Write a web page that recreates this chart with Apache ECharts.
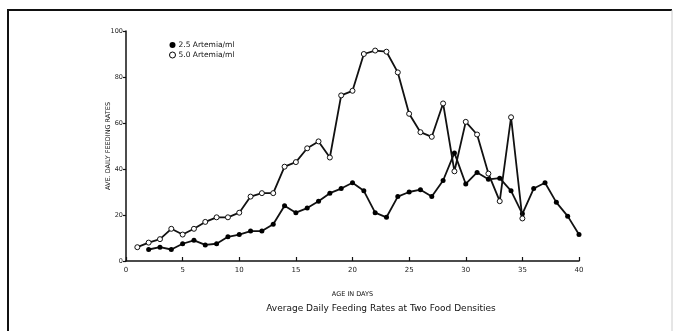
<!DOCTYPE html>
<html>
<head>
<meta charset="utf-8">
<script src="https://cdn.jsdelivr.net/npm/echarts@6/dist/echarts.min.js"></script>
<style>
html,body{margin:0;padding:0;background:#fff;}
#chart{width:674px;height:331px;}
</style>
</head>
<body>
<div id="chart"></div>
<script>
var xTicks = [0, 5, 10, 15, 20, 25, 30, 35, 40];
var yTicks = [0, 20, 40, 60, 80, 100];

var lowDays = [2,3,4,5,6,7,8,9,10,11,12,13,14,15,16,17,18,19,20,21,22,23,24,25,26,27,28,29,30,31,32,33,34,35,36,37,38,39,40];
var lowValues = [5,6,5,7.5,9,7,7.5,10.5,11.5,13,13,16,24,21,23,26,29.5,31.5,34,30.5,21,19,28,30,31,28,35,47,33.5,38.5,35.5,36,30.5,20.5,31.5,34,25.5,19.5,11.5];

var highDays = [1,2,3,4,5,6,7,8,9,10,11,12,13,14,15,16,17,18,19,20,21,22,23,24,25,26,27,28,29,30,31,32,33,34,35];
var highValues = [6,8,9.5,14,11.5,14,17,19,19,21,28,29.5,29.5,41,43,49,52,45,72,74,90,91.5,91,82,64,56,54,68.5,39,60.5,55,38,26,62.5,18.5];

var lowName = '2.5 Artemia/ml';
var highName = '5.0 Artemia/ml';
var titleText = 'Average Daily Feeding Rates at Two Food Densities';
var xName = 'AGE IN DAYS';
var yName = 'AVE. DAILY FEEDING RATES';

function pairs(xs, ys) { return xs.map(function (x, i) { return [x, ys[i]]; }); }

var font = 'DejaVu Sans';
var chart = echarts.init(document.getElementById('chart'));
chart.setOption({
  animation: false,
  backgroundColor: '#fff',
  title: {
    text: titleText,
    left: 376, top: 299, textAlign: 'center',
    textStyle: { fontFamily: font, fontSize: 9, fontWeight: 'normal', color: '#111' }
  },
  legend: {
    orient: 'vertical', left: 164, top: 36, itemGap: 2,
    itemWidth: 6, itemHeight: 6,
    textStyle: { fontFamily: font, fontSize: 7.5, color: '#111', padding: [0,0,0,-2] },
    data: [
      { name: lowName, icon: 'circle', itemStyle: { color: '#000', borderWidth: 0 } },
      { name: highName, icon: 'circle', itemStyle: { color: '#fff', borderColor: '#000', borderWidth: 1 } }
    ]
  },
  grid: { left: 126, right: 95, top: 31, bottom: 70 },
  xAxis: {
    type: 'value', min: xTicks[0], max: xTicks[xTicks.length - 1], interval: 5,
    name: xName, nameLocation: 'middle', nameGap: 30,
    nameTextStyle: { fontFamily: font, fontSize: 6.5, color: '#111' },
    axisLine: { lineStyle: { color: '#111', width: 1.5 } },
    axisTick: { inside: true, length: 4, lineStyle: { color: '#111', width: 1.2 } },
    axisLabel: { fontFamily: font, fontSize: 7, color: '#222', margin: 6 },
    splitLine: { show: false }
  },
  yAxis: {
    type: 'value', min: yTicks[0], max: yTicks[yTicks.length - 1], interval: 20,
    name: yName, nameLocation: 'middle', nameGap: 14, nameMoveOverlap: false,
    nameTextStyle: { fontFamily: font, fontSize: 6.5, color: '#111' },
    axisLine: { show: true, lineStyle: { color: '#111', width: 1.5 } },
    axisTick: { show: true, inside: false, length: 3, lineStyle: { color: '#111', width: 1.2 } },
    axisLabel: { fontFamily: font, fontSize: 6.5, color: '#222', margin: 3 },
    splitLine: { show: false }
  },
  graphic: [
    { type: 'polyline', shape: { points: [[8, 331], [8, 10], [672, 10]] }, style: { stroke: '#111', lineWidth: 2, fill: null } },
    { type: 'line', shape: { x1: 672, y1: 10, x2: 672, y2: 331 }, style: { stroke: '#ccc', lineWidth: 1 } }
  ],
  series: [
    {
      name: lowName, type: 'line', data: pairs(lowDays, lowValues),
      symbol: 'circle', symbolSize: 5, z: 3,
      lineStyle: { color: '#111', width: 1.8 },
      itemStyle: { color: '#000' }
    },
    {
      name: highName, type: 'line', data: pairs(highDays, highValues),
      symbol: 'circle', symbolSize: 5, z: 4,
      lineStyle: { color: '#111', width: 1.8 },
      itemStyle: { color: '#fff', borderColor: '#111', borderWidth: 1 }
    }
  ]
});
</script>
</body>
</html>
